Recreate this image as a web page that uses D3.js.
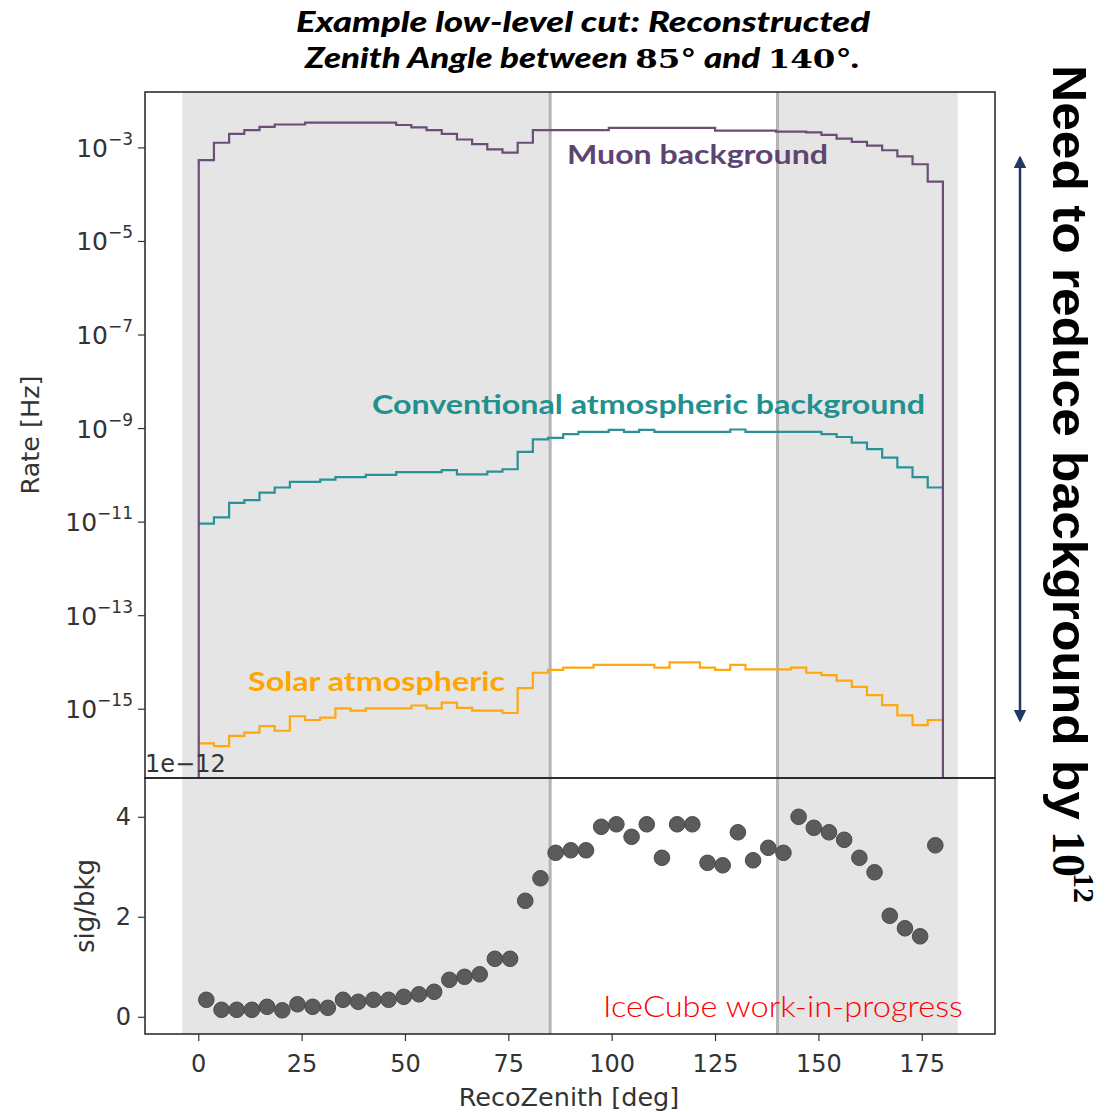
<!DOCTYPE html>
<html>
<head>
<meta charset="utf-8">
<script src="https://cdn.jsdelivr.net/npm/d3@7"></script>
<style>
  body { margin: 0; background: #fff; }
  text { font-family: "DejaVu Sans", sans-serif; }
</style>
</head>
<body>
<div id="chart"></div>
<script>
// binning of the histograms (deg)
var binStart = 0, binEnd = 180, nBins = 49;

// log10 of the rate [Hz] in each bin
var muonLog = [-3.26, -2.89, -2.70, -2.62, -2.55, -2.50, -2.50, -2.46, -2.46, -2.46,
  -2.46, -2.46, -2.46, -2.51, -2.56, -2.62, -2.70, -2.82, -2.92, -3.03,
  -3.10, -2.89, -2.62, -2.62, -2.62, -2.62, -2.62, -2.57, -2.57, -2.57,
  -2.57, -2.57, -2.57, -2.57, -2.63, -2.63, -2.63, -2.63, -2.65, -2.65,
  -2.67, -2.72, -2.80, -2.87, -2.95, -3.05, -3.18, -3.35, -3.72];
var convLog = [-11.03, -10.90, -10.59, -10.53, -10.37, -10.26, -10.14, -10.14, -10.09, -10.04,
  -10.04, -9.99, -9.99, -9.93, -9.93, -9.93, -9.89, -9.98, -9.98, -9.92,
  -9.87, -9.50, -9.23, -9.20, -9.12, -9.07, -9.07, -9.03, -9.07, -9.03,
  -9.07, -9.07, -9.07, -9.07, -9.07, -9.02, -9.07, -9.07, -9.07, -9.07,
  -9.07, -9.12, -9.18, -9.30, -9.44, -9.62, -9.83, -10.04, -10.26];
var solarLog = [-15.73, -15.79, -15.57, -15.50, -15.36, -15.46, -15.15, -15.23, -15.18, -14.98,
  -15.03, -14.98, -14.98, -14.98, -14.92, -14.98, -14.86, -14.97, -15.03, -15.03,
  -15.08, -14.55, -14.22, -14.16, -14.11, -14.11, -14.05, -14.05, -14.05, -14.05,
  -14.11, -14.00, -14.00, -14.11, -14.16, -14.05, -14.15, -14.15, -14.15, -14.11,
  -14.22, -14.27, -14.39, -14.52, -14.70, -14.91, -15.13, -15.34, -15.23];

// sig/bkg in each bin (units of 1e-12)
var sigBkg = [0.35, 0.15, 0.15, 0.15, 0.21, 0.14, 0.26, 0.21, 0.19, 0.35,
  0.31, 0.35, 0.35, 0.41, 0.46, 0.51, 0.75, 0.81, 0.86, 1.17,
  1.17, 2.33, 2.78, 3.29, 3.34, 3.34, 3.81, 3.86, 3.61, 3.86,
  3.19, 3.86, 3.86, 3.09, 3.04, 3.70, 3.14, 3.39, 3.29, 4.01,
  3.79, 3.70, 3.55, 3.19, 2.90, 2.03, 1.78, 1.62, 3.44];

var rateTicks = [-3, -5, -7, -9, -11, -13, -15];   // exponents
var ratioTicks = [0, 2, 4];
var zenithTicks = [0, 25, 50, 75, 100, 125, 150, 175];
var vetoBands = [[-4, 85], [140, 183.6]];
var cutLines = [85, 140];

var width = 1107, height = 1112,
    left = 145, right = 995,
    topY = 92, midY = 778, botY = 1034;

var svg = d3.select("#chart").append("svg")
  .attr("width", width)
  .attr("height", height);

var x = d3.scaleLinear().domain([-13, 192.6]).range([left, right]);
var yRate = d3.scaleLog().domain([Math.pow(10, -16.47), Math.pow(10, -1.805)]).range([midY, topY]);
var yRatio = d3.scaleLinear().domain([-0.334, 4.786]).range([botY, midY]);

var edges = d3.range(nBins + 1).map(function(i) { return binStart + i * (binEnd - binStart) / nBins; });
var centers = d3.range(nBins).map(function(i) { return (edges[i] + edges[i + 1]) / 2; });

svg.append("clipPath").attr("id", "clipTop")
  .append("rect").attr("x", left).attr("y", topY).attr("width", right - left).attr("height", midY - topY);

// gray veto regions + cut lines on both panels
[[topY, midY], [midY, botY]].forEach(function(p) {
  svg.selectAll(null)
    .data(vetoBands)
    .enter().append("rect")
    .attr("x", function(d) { return x(d[0]); })
    .attr("width", function(d) { return x(d[1]) - x(d[0]); })
    .attr("y", p[0])
    .attr("height", p[1] - p[0])
    .style("fill", "#e5e5e5");
});
svg.selectAll(".cut")
  .data(cutLines)
  .enter().append("line")
  .attr("class", "cut")
  .attr("x1", function(d) { return x(d); })
  .attr("x2", function(d) { return x(d); })
  .attr("y1", topY)
  .attr("y2", botY)
  .style("stroke", "#b4b4b4")
  .style("stroke-width", 3);

// step histograms
function stepPath(vals, closed) {
  var p = d3.path(), base = midY + 10;
  if (closed) p.moveTo(x(edges[0]), base);
  else p.moveTo(x(edges[0]), yRate(Math.pow(10, vals[0])));
  vals.forEach(function(v, i) {
    var yy = yRate(Math.pow(10, v));
    p.lineTo(x(edges[i]), yy);
    p.lineTo(x(edges[i + 1]), yy);
  });
  if (closed) p.lineTo(x(edges[nBins]), base);
  return p.toString();
}

var hists = [
  {vals: solarLog, color: "#ffa70f", closed: false},
  {vals: convLog, color: "#2a9196", closed: false},
  {vals: muonLog, color: "#6a4e78", closed: true}
];
svg.append("g").attr("clip-path", "url(#clipTop)")
  .selectAll("path")
  .data(hists)
  .enter().append("path")
  .attr("d", function(d) { return stepPath(d.vals, d.closed); })
  .style("fill", "none")
  .style("stroke", function(d) { return d.color; })
  .style("stroke-width", 2.2);

// sig/bkg points
svg.selectAll(".pt")
  .data(sigBkg)
  .enter().append("circle")
  .attr("class", "pt")
  .attr("cx", function(d, i) { return x(centers[i]); })
  .attr("cy", function(d) { return yRatio(d); })
  .attr("r", 7.8)
  .style("fill", "#5b5b5b")
  .style("stroke", "#4a4a4a")
  .style("stroke-width", 1);

// frames
svg.append("rect").attr("x", left).attr("y", topY).attr("width", right - left).attr("height", midY - topY)
  .style("fill", "none").style("stroke", "#222").style("stroke-width", 1.5);
svg.append("rect").attr("x", left).attr("y", midY).attr("width", right - left).attr("height", botY - midY)
  .style("fill", "none").style("stroke", "#222").style("stroke-width", 1.5);

// upper y axis (log)
var rt = svg.selectAll(".rt")
  .data(rateTicks)
  .enter().append("g")
  .attr("class", "rt")
  .attr("transform", function(d) { return "translate(0," + yRate(Math.pow(10, d)) + ")"; });
rt.append("line").attr("x1", left - 7).attr("x2", left).style("stroke", "#333").style("stroke-width", 1.2);
var rtText = rt.append("text")
  .attr("x", left - 12)
  .attr("dy", 9)
  .style("text-anchor", "end")
  .style("font-size", "25px")
  .style("fill", "#333");
rtText.append("tspan").text("10");
rtText.append("tspan").attr("dy", -12).style("font-size", "17px").text(function(d) { return "\u2212" + Math.abs(d); });

// lower y axis
var yt = svg.selectAll(".yt")
  .data(ratioTicks)
  .enter().append("g")
  .attr("class", "yt")
  .attr("transform", function(d) { return "translate(0," + yRatio(d) + ")"; });
yt.append("line").attr("x1", left - 7).attr("x2", left).style("stroke", "#333").style("stroke-width", 1.2);
yt.append("text")
  .attr("x", left - 14)
  .attr("dy", 8)
  .style("text-anchor", "end")
  .style("font-size", "24px")
  .style("fill", "#333")
  .text(function(d) { return d; });

svg.append("text")
  .attr("x", left)
  .attr("y", midY - 6)
  .style("font-size", "24px")
  .style("fill", "#333")
  .text("1e\u221212");

// x axis
var xt = svg.selectAll(".xt")
  .data(zenithTicks)
  .enter().append("g")
  .attr("class", "xt")
  .attr("transform", function(d) { return "translate(" + x(d) + ",0)"; });
xt.append("line").attr("y1", botY).attr("y2", botY + 7).style("stroke", "#333").style("stroke-width", 1.2);
xt.append("text")
  .attr("y", botY + 38)
  .style("text-anchor", "middle")
  .style("font-size", "24px")
  .style("fill", "#333")
  .text(function(d) { return d; });

svg.append("text")
  .attr("x", 569)
  .attr("y", 1106)
  .style("text-anchor", "middle")
  .style("font-size", "25.5px")
  .style("fill", "#333")
  .text("RecoZenith [deg]");

svg.append("text")
  .attr("transform", "translate(39," + (topY + midY) / 2 + ") rotate(-90)")
  .style("text-anchor", "middle")
  .style("font-size", "25.5px")
  .style("fill", "#333")
  .text("Rate [Hz]");

svg.append("text")
  .attr("transform", "translate(94," + (midY + botY) / 2 + ") rotate(-90)")
  .style("text-anchor", "middle")
  .style("font-size", "26px")
  .style("fill", "#333")
  .text("sig/bkg");

// series labels
var labels = [
  {text: "Muon background", x: 567, y: 164, w: 261, color: "#5e4470"},
  {text: "Conventional atmospheric background", x: 372, y: 414, w: 553, color: "#22908f"},
  {text: "Solar atmospheric", x: 248, y: 691, w: 257, color: "#ffa500"}
];
svg.selectAll(".lbl")
  .data(labels)
  .enter().append("text")
  .attr("class", "lbl")
  .attr("x", function(d) { return d.x; })
  .attr("y", function(d) { return d.y; })
  .attr("textLength", function(d) { return d.w; })
  .attr("lengthAdjust", "spacingAndGlyphs")
  .style("font-family", "Lato, sans-serif")
  .style("font-weight", "bold")
  .style("font-size", "26px")
  .style("fill", function(d) { return d.color; })
  .text(function(d) { return d.text; });

svg.append("text")
  .attr("x", 603)
  .attr("y", 1017)
  .attr("textLength", 360)
  .attr("lengthAdjust", "spacingAndGlyphs")
  .style("font-family", "Lato, sans-serif")
  .style("font-weight", 300)
  .style("font-size", "29px")
  .style("fill", "#ff0000")
  .text("IceCube work-in-progress");

// title
svg.append("text")
  .attr("x", 296)
  .attr("y", 32)
  .attr("textLength", 574)
  .attr("lengthAdjust", "spacingAndGlyphs")
  .style("font-family", "Lato, sans-serif")
  .style("font-weight", 900)
  .style("font-style", "italic")
  .style("font-size", "28px")
  .style("fill", "#000")
  .text("Example low-level cut: Reconstructed");

var t2 = svg.append("text")
  .attr("x", 305)
  .attr("y", 68)
  .attr("textLength", 555)
  .attr("lengthAdjust", "spacingAndGlyphs")
  .style("font-family", "Lato, sans-serif")
  .style("font-weight", 900)
  .style("font-style", "italic")
  .style("font-size", "28px")
  .style("fill", "#000");
t2.append("tspan").text("Zenith Angle between ");
t2.append("tspan").style("font-family", "DejaVu Serif, serif").style("font-style", "normal").style("font-weight", "bold").style("font-size", "26px").text("85\u00b0");
t2.append("tspan").text(" and ");
t2.append("tspan").style("font-family", "DejaVu Serif, serif").style("font-style", "normal").style("font-weight", "bold").style("font-size", "26px").text("140\u00b0");
t2.append("tspan").text(".");

// right-hand annotation
var defs = svg.append("defs");
defs.append("marker")
  .attr("id", "head")
  .attr("viewBox", "0 0 10 10")
  .attr("refX", 8).attr("refY", 5)
  .attr("markerWidth", 5).attr("markerHeight", 5)
  .attr("orient", "auto-start-reverse")
  .append("path").attr("d", "M0,0 L10,5 L0,10 z").style("fill", "#1f3864");

svg.append("line")
  .attr("x1", 1020).attr("x2", 1020)
  .attr("y1", 158).attr("y2", 720)
  .style("stroke", "#1f3864")
  .style("stroke-width", 2.5)
  .attr("marker-start", "url(#head)")
  .attr("marker-end", "url(#head)");

var note = svg.append("g").attr("transform", "translate(1053,65) rotate(90)");
note.append("text")
  .attr("x", 0).attr("y", 0)
  .attr("textLength", 755)
  .attr("lengthAdjust", "spacingAndGlyphs")
  .style("font-family", "Liberation Sans, Arial, sans-serif")
  .style("font-weight", "bold")
  .style("font-size", "48px")
  .style("fill", "#000")
  .text("Need to reduce background by");
note.append("text")
  .attr("x", 766).attr("y", 0)
  .style("font-family", "Liberation Serif, serif")
  .style("font-weight", "bold")
  .style("font-size", "46px")
  .style("fill", "#000")
  .text("10");
note.append("text")
  .attr("x", 808).attr("y", -21)
  .style("font-family", "Liberation Serif, serif")
  .style("font-weight", "bold")
  .style("font-size", "30px")
  .style("fill", "#000")
  .text("12");
</script>
</body>
</html>
